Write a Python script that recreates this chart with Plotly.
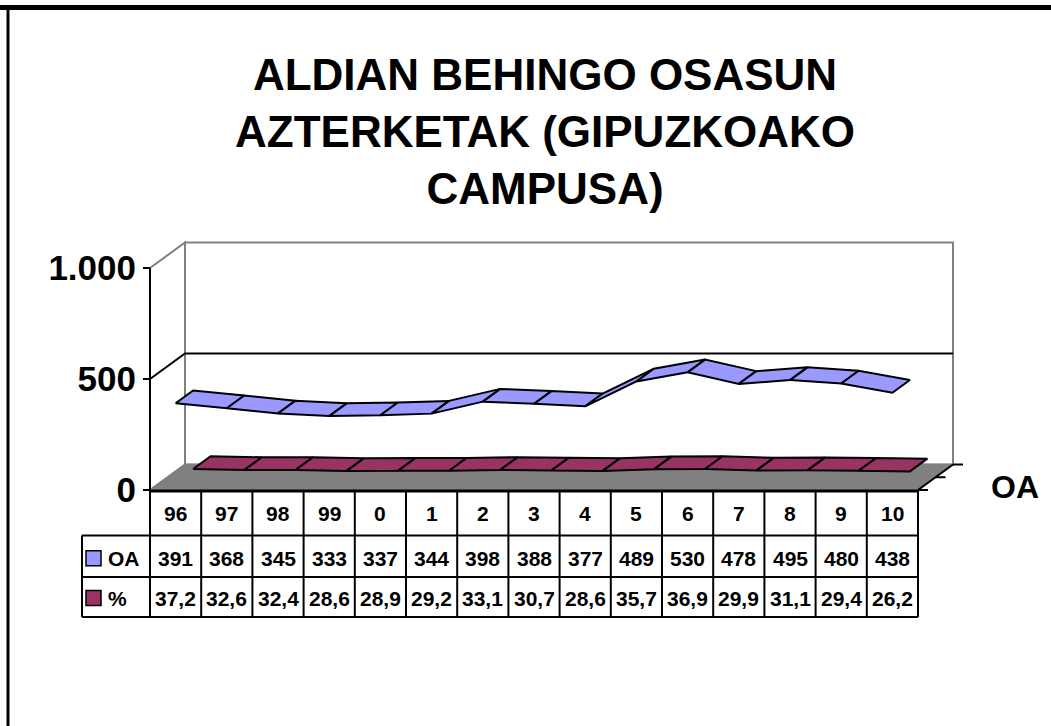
import plotly.graph_objects as go

# ---------------- data ----------------
categories = ["96", "97", "98", "99", "0", "1", "2", "3", "4", "5", "6", "7", "8", "9", "10"]
oa_values = [391, 368, 345, 333, 337, 344, 398, 388, 377, 489, 530, 478, 495, 480, 438]
pct_values = [37.2, 32.6, 32.4, 28.6, 28.9, 29.2, 33.1, 30.7, 28.6, 35.7, 36.9, 29.9, 31.1, 29.4, 26.2]
series_names = ["OA", "%"]
series_colors = ["#9999FF", "#993366"]
y_tickvals = [0, 500, 1000]
y_ticktext = ["0", "500", "1.000"]
title_text = "ALDIAN BEHINGO OSASUN<br>AZTERKETAK (GIPUZKOAKO<br>CAMPUSA)"
series_axis_label = "OA"

# ---------------- geometry (pixel layout of the 3-D frame) ----------------
W, H = 1051, 726
PX_PER_CAT = 51.2          # width of one category
CAT0_PX = 175.6            # pixel x of first category centre
PX_PER_VAL = 0.222         # vertical pixels per value unit
ZERO_PX = 490              # pixel y of value 0 on front plane
DEPTH_DX_PX, DEPTH_DY_PX = 35.0, 25.5

DX = DEPTH_DX_PX / PX_PER_CAT       # depth offset in category units
DY = DEPTH_DY_PX / PX_PER_VAL       # depth offset in value units
n = len(categories)
XL, XR = -0.5, n - 0.5
YMAX = 1000

x_range = [-CAT0_PX / PX_PER_CAT, (W - CAT0_PX) / PX_PER_CAT]
y_range = [(ZERO_PX - H) / PX_PER_VAL, ZERO_PX / PX_PER_VAL]


def py(p):  # pixel y -> paper y
    return 1 - p / H


def px_to_x(p):
    return (p - CAT0_PX) / PX_PER_CAT


def px_to_val(p):
    return (ZERO_PX - p) / PX_PER_VAL


FONT = "Liberation Sans, Arial, sans-serif"
GREY = "#808080"

fig = go.Figure()

# ---------------- ribbons ----------------
ribbons = [(oa_values, 0.0, 0.5, series_colors[0]), (pct_values, 0.5, 1.0, series_colors[1])]
# draw the back series first
for vals, d0, d1, col in reversed(ribbons):
    for i in range(n - 1):
        xs = [i + d0 * DX, i + 1 + d0 * DX, i + 1 + d1 * DX, i + d1 * DX, i + d0 * DX]
        ys = [vals[i] + d0 * DY, vals[i + 1] + d0 * DY, vals[i + 1] + d1 * DY,
              vals[i] + d1 * DY, vals[i] + d0 * DY]
        fig.add_trace(go.Scatter(x=xs, y=ys, mode="lines", fill="toself", fillcolor=col,
                                 line=dict(color="black", width=2), hoverinfo="skip",
                                 showlegend=False))

shapes = []
# back wall
shapes.append(dict(type="rect", xref="x", yref="y", x0=XL + DX, x1=XR + DX, y0=DY, y1=YMAX + DY,
                   fillcolor="white", line=dict(color=GREY, width=2), layer="below"))
# left wall
shapes.append(dict(type="path", xref="x", yref="y",
                   path=f"M {XL},0 L {XL},{YMAX} L {XL+DX},{YMAX+DY} L {XL+DX},{DY} Z",
                   fillcolor="white", line=dict(color=GREY, width=2), layer="below"))
# floor
shapes.append(dict(type="path", xref="x", yref="y",
                   path=f"M {XL},0 L {XR},0 L {XR+DX},{DY} L {XL+DX},{DY} Z",
                   fillcolor=GREY, line=dict(color=GREY, width=1.5), layer="below"))
# 500 gridline
shapes.append(dict(type="path", xref="x", yref="y",
                   path=f"M {XL},500 L {XL+DX},{500+DY} L {XR+DX},{500+DY}",
                   line=dict(color="black", width=2), layer="below"))
# floor right edge (series axis) + ticks
shapes.append(dict(type="line", xref="x", yref="y", x0=XR, y0=0, x1=XR + DX, y1=DY,
                   line=dict(color="black", width=2), layer="below"))
for d in [0, 0.5, 1.0]:
    shapes.append(dict(type="line", xref="x", yref="y", x0=XR + d * DX, y0=d * DY,
                       x1=XR + d * DX + 10 / PX_PER_CAT, y1=d * DY,
                       line=dict(color="black", width=2), layer="below"))
# front value axis line
shapes.append(dict(type="line", xref="x", yref="y", x0=XL, y0=YMAX, x1=XL, y1=0,
                   line=dict(color="black", width=2)))

# ---------------- data table ----------------
ROW_TOP, ROW1, ROW2, ROW_BOT = 491, 535.5, 577, 617
LEG_LEFT = px_to_x(82)
shapes.append(dict(type="line", xref="x", yref="paper", x0=XL, x1=XR, y0=py(ROW_TOP), y1=py(ROW_TOP),
                   line=dict(color="black", width=3)))
for r in [ROW1, ROW2, ROW_BOT]:
    shapes.append(dict(type="line", xref="x", yref="paper", x0=LEG_LEFT, x1=XR, y0=py(r), y1=py(r),
                       line=dict(color="black", width=2)))
shapes.append(dict(type="line", xref="x", yref="paper", x0=LEG_LEFT, x1=LEG_LEFT, y0=py(ROW1),
                   y1=py(ROW_BOT), line=dict(color="black", width=2)))
for k in range(n + 1):
    shapes.append(dict(type="line", xref="x", yref="paper", x0=k - 0.5, x1=k - 0.5,
                       y0=py(ROW_TOP), y1=py(ROW_BOT), line=dict(color="black", width=2)))

annotations = []
row_centres = [(ROW_TOP + ROW1) / 2 + 0.5, (ROW1 + ROW2) / 2 + 2, (ROW2 + ROW_BOT) / 2 + 1]
row_texts = [categories, [str(v) for v in oa_values],
             [f"{v:.1f}".replace(".", ",") for v in pct_values]]
for rc, texts in zip(row_centres, row_texts):
    for i, t in enumerate(texts):
        annotations.append(dict(x=i, y=py(rc), xref="x", yref="paper", text=f"<b>{t}</b>",
                                showarrow=False, font=dict(family=FONT, size=21, color="black"),
                                xanchor="center", yanchor="middle"))
# legend keys inside the table
for name, col, rc in zip(series_names, series_colors, row_centres[1:]):
    shapes.append(dict(type="rect", xref="paper", yref="paper", x0=86 / W, x1=101 / W,
                       y0=py(rc + 7.5), y1=py(rc - 7.5), fillcolor=col,
                       line=dict(color="black", width=1.5)))
    annotations.append(dict(x=106 / W, y=py(rc), xref="paper", yref="paper", text=f"<b>{name}</b>",
                            showarrow=False, font=dict(family=FONT, size=21, color="black"),
                            xanchor="left", yanchor="middle"))

# series axis label
annotations.append(dict(x=px_to_x(1015), y=px_to_val(487), xref="x", yref="y",
                        text=f"<b>{series_axis_label}</b>", showarrow=False,
                        font=dict(family=FONT, size=32, color="black"),
                        xanchor="center", yanchor="middle"))

# title
annotations.append(dict(x=545 / W, y=py(131), xref="paper", yref="paper",
                        text=f"<b>{title_text}</b>", showarrow=False, align="center",
                        font=dict(family=FONT, size=44, color="black"),
                        xanchor="center", yanchor="middle"))

# outer border (top + left)
shapes.append(dict(type="line", xref="paper", yref="paper", x0=0, x1=1, y0=py(7.5), y1=py(7.5),
                   line=dict(color="black", width=5)))
shapes.append(dict(type="line", xref="paper", yref="paper", x0=8 / W, x1=8 / W, y0=py(6), y1=0,
                   line=dict(color="black", width=3)))

fig.update_layout(
    width=W, height=H,
    margin=dict(l=0, r=0, t=0, b=0),
    paper_bgcolor="white", plot_bgcolor="rgba(0,0,0,0)",
    showlegend=False, hovermode=False,
    xaxis=dict(range=x_range, visible=False, fixedrange=True),
    yaxis=dict(range=y_range, anchor="free", position=(CAT0_PX - 0.5 * PX_PER_CAT) / W,
               showgrid=False, zeroline=False, showline=False,
               tickvals=y_tickvals, ticktext=y_ticktext, ticks="outside", ticklen=7,
               tickwidth=2, tickcolor="black",
               tickfont=dict(family=FONT, size=35, color="black", weight="bold"),
               fixedrange=True),
    shapes=shapes, annotations=annotations,
)

fig.write_html("out.html", config={"displayModeBar": False},
               post_script="document.body.style.margin='0';document.body.style.overflow='hidden';")
